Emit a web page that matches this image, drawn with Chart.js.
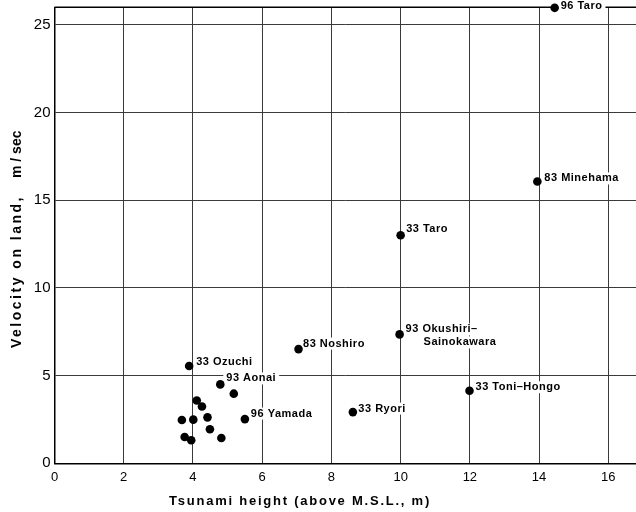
<!DOCTYPE html>
<html><head><meta charset="utf-8">
<script src="https://cdn.jsdelivr.net/npm/chart.js@4/dist/chart.umd.min.js"></script>
<style>html,body{margin:0;padding:0;background:#fff;overflow:hidden;} #wrap{width:636px;height:512px;position:relative;}</style>
</head><body><div id="wrap"><canvas id="c"></canvas></div>
<script>
// ---- data ----
const heightX   = [14.45, 13.95, 10.0, 9.97, 7.05, 3.89, 4.79, 11.99, 8.62, 5.5,
                   5.18, 4.11, 4.26, 3.68, 4.01, 4.42, 4.49, 3.76, 3.95, 4.82];
const velocityY = [25.97, 16.07, 13.0, 7.35, 6.51, 5.55, 4.5, 4.14, 2.92, 2.52,
                   3.97, 3.58, 3.24, 2.47, 2.49, 2.62, 1.94, 1.5, 1.31, 1.44];
const pointNames = ['96 Taro', '83 Minehama', '33 Taro', '93 Okushiri–\nSainokawara', '83 Noshiro',
                    '33 Ozuchi', '93 Aonai', '33 Toni–Hongo', '33 Ryori', '96 Yamada',
                    '', '', '', '', '', '', '', '', '', ''];
const xTicks = [0, 2, 4, 6, 8, 10, 12, 14, 16];
const yTicks = [0, 5, 10, 15, 20, 25];
const xTitle = 'Tsunami height (above M.S.L., m)';
const yTitleMain = 'Velocity on land,';
const yTitleUnit = 'm / sec';

// ---- label placement (pixel offsets from the point, per text line) ----
const labelOffsets = {
  '96 Taro': [[6, -1.5]],
  '83 Minehama': [[7, -3]],
  '33 Taro': [[5.5, -6]],
  '93 Okushiri–\nSainokawara': [[6, -5], [24, 8]],
  '83 Noshiro': [[4.5, -5.5]],
  '33 Ozuchi': [[7, -4]],
  '93 Aonai': [[6, -6]],
  '33 Toni–Hongo': [[6, -3.5]],
  '33 Ryori': [[5.5, -3.5]],
  '96 Yamada': [[6, -5.5]]
};

const LABEL_FONT = 'bold 11px "Liberation Sans"';
const XTITLE_FONT = 'bold 13px "Liberation Sans"';
const YTITLE_FONT = 'bold 14px "Liberation Sans"';

// draw text spread to a target width (letter-spaced like the original lettering)
function spacedText(ctx, text, x, y, width) {
  ctx.letterSpacing = '0px';
  const w0 = ctx.measureText(text).width;
  const sp = Math.max(0, (width - w0) / text.length);
  ctx.letterSpacing = sp + 'px';
  ctx.fillText(text, x, y);
}

const decor = {
  id: 'decor',
  beforeDatasetsDraw(chart) {
    const {ctx, chartArea: a, scales: {x, y}} = chart;
    ctx.save();
    ctx.strokeStyle = '#000';
    ctx.lineWidth = 1.5;
    ctx.beginPath(); ctx.moveTo(a.left, a.top); ctx.lineTo(a.right, a.top); ctx.stroke();
    ctx.font = LABEL_FONT;
    ctx.letterSpacing = '0.5px';
    ctx.textBaseline = 'middle';
    ctx.textAlign = 'left';
    pointNames.forEach((name, i) => {
      if (!name) return;
      const px = x.getPixelForValue(heightX[i]);
      const py = y.getPixelForValue(velocityY[i]);
      const lines = name.split('\n');
      const offs = labelOffsets[name] || [[6, -4]];
      lines.forEach((ln, k) => {
        const [dx, dy] = offs[k] || offs[0];
        const w = ctx.measureText(ln).width;
        ctx.fillStyle = '#fff';
        ctx.fillRect(px + dx - 3, py + dy - 6, w + 6, 12);
        ctx.fillStyle = '#000';
        ctx.fillText(ln, px + dx, py + dy);
      });
    });
    ctx.restore();
  },
  afterDraw(chart) {
    const {ctx} = chart;
    ctx.save();
    ctx.fillStyle = '#000';
    ctx.textBaseline = 'middle';
    ctx.textAlign = 'left';
    ctx.font = XTITLE_FONT;
    spacedText(ctx, xTitle, 169, 501, 262);
    ctx.font = YTITLE_FONT;
    ctx.translate(17.5, 0);
    ctx.rotate(-Math.PI / 2);
    spacedText(ctx, yTitleMain, -348, 0, 153);
    spacedText(ctx, yTitleUnit, -178, 0, 46);
    ctx.restore();
  }
};

new Chart(document.getElementById('c'), {
  type: 'scatter',
  data: {
    datasets: [{
      data: heightX.map((v, i) => ({x: v, y: velocityY[i]})),
      backgroundColor: '#000',
      borderWidth: 0,
      pointRadius: 4.3,
      clip: false
    }]
  },
  options: {
    responsive: true,
    maintainAspectRatio: false,
    animation: false,
    events: [],
    layout: {autoPadding: false, padding: {top: 7.3, left: 0, right: 0, bottom: 0}},
    plugins: {legend: {display: false}, tooltip: {enabled: false}},
    scales: {
      x: {
        type: 'linear', min: 0, max: 16.8,
        afterBuildTicks: s => { s.ticks = xTicks.map(v => ({value: v})); },
        afterFit: s => { s.height = 48.7; s.paddingLeft = 0; s.paddingRight = 0; },
        grid: {color: '#3a3a3a', lineWidth: 1, drawTicks: false},
        border: {color: '#000', width: 1.5},
        ticks: {padding: 6, color: '#000', font: {family: '"Liberation Sans"', size: 13}, maxRotation: 0, autoSkip: false}
      },
      y: {
        type: 'linear', min: 0, max: 26,
        afterBuildTicks: s => { s.ticks = yTicks.map(v => ({value: v})); },
        afterFit: s => { s.width = 54.5; s.paddingTop = 0; s.paddingBottom = 0; },
        grid: {color: '#3a3a3a', lineWidth: 1, drawTicks: false},
        border: {color: '#000', width: 1.5},
        ticks: {padding: 4, color: '#000', font: {family: '"Liberation Sans"', size: 15}, autoSkip: false}
      }
    }
  },
  plugins: [decor]
});
</script>
</body></html>
